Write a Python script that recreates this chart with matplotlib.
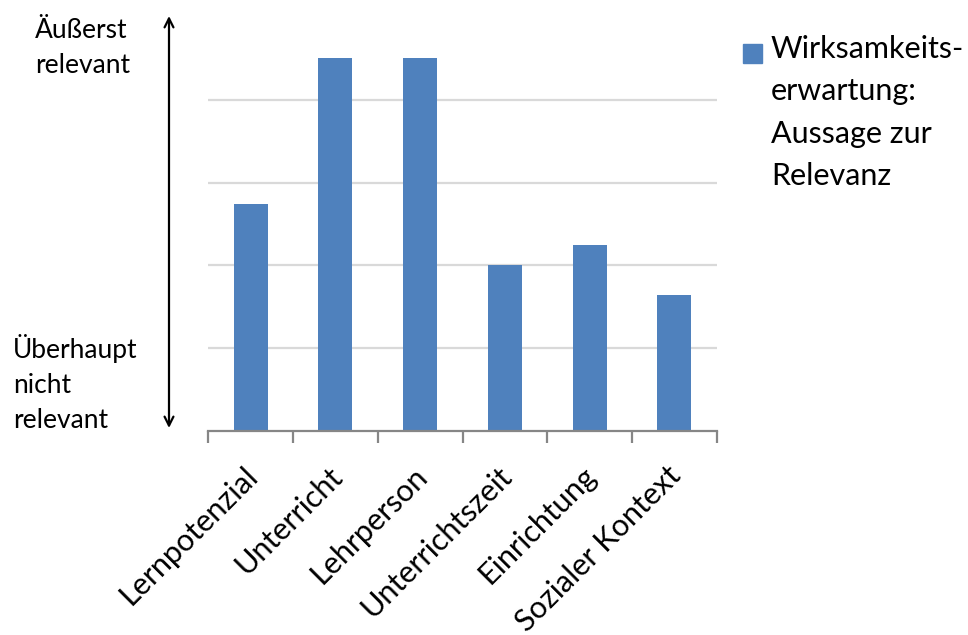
import matplotlib
matplotlib.use("Agg")
import matplotlib.pyplot as plt
from matplotlib.patches import Rectangle
from matplotlib.transforms import ScaledTranslation

categories = ["Lernpotenzial", "Unterricht", "Lehrperson", "Unterrichtszeit",
              "Einrichtung", "Sozialer Kontext"]
values = [2.74, 4.5, 4.5, 2.0, 2.25, 1.64]
series_label = "Wirksamkeits-\nerwartung:\nAussage zur\nRelevanz"
top_label = "Äußerst\nrelevant"
bottom_label = "Überhaupt\nnicht\nrelevant"

BAR = "#4F81BD"
FONT = "Lato"

W, H = 968, 635
fig = plt.figure(figsize=(W / 100, H / 100), dpi=100)
ax = fig.add_axes([208.3 / W, 1 - 431 / H, (716.7 - 208.3) / W, (431 - 17) / H])

x = list(range(len(categories)))
ax.bar(x, values, width=0.4, color=BAR, zorder=3)
ax.set_xlim(-0.5, len(categories) - 0.5)
ax.set_ylim(0, 5)

for gy in [1, 2, 3, 4]:
    ax.axhline(gy, color="#D9D9D9", lw=1.6, zorder=1)

for s in ["top", "right", "left"]:
    ax.spines[s].set_visible(False)
ax.spines["bottom"].set_color("#868686")
ax.spines["bottom"].set_linewidth(1.6)
ax.spines["bottom"].set_zorder(4)
ax.set_yticks([])

ax.set_xticks([i - 0.5 for i in range(len(categories) + 1)])
ax.set_xticklabels([])
ax.tick_params(axis="x", which="major", direction="out", length=8.5, width=1.6,
               color="#868686")
ax.set_xticks(x, minor=True)
ax.set_xticklabels(categories, minor=True, rotation=45, ha="right", va="top",
                   fontsize=22, family=FONT)
ax.tick_params(axis="x", which="minor", length=0, pad=22)
offset = ScaledTranslation(12 / 100, 0, fig.dpi_scale_trans)
for lab in ax.get_xticklabels(minor=True):
    lab.set_transform(lab.get_transform() + offset)

# double-headed arrow on the left
ax.annotate("", xy=(169 / W, 1 - 16 / H), xytext=(169 / W, 1 - 428 / H),
            xycoords="figure fraction", textcoords="figure fraction",
            arrowprops=dict(arrowstyle="<->", lw=1.6, color="black",
                            mutation_scale=16, shrinkA=0, shrinkB=0))

# va='baseline' aligns the baseline of the last line
fig.text(35 / W, 1 - 73 / H, top_label, ha="left", va="baseline",
         fontsize=19, family=FONT, linespacing=1.49)
fig.text(13 / W, 1 - 428 / H, bottom_label, ha="left", va="baseline",
         fontsize=19, family=FONT, linespacing=1.49)

# legend
fig.patches.append(Rectangle((743 / W, 1 - 63 / H), 19 / W, 19 / H,
                             transform=fig.transFigure, color=BAR))
fig.text(771 / W, 1 - 185 / H, series_label, ha="left", va="baseline",
         fontsize=22, family=FONT, linespacing=1.62)

fig.savefig("out.png", dpi=100)
